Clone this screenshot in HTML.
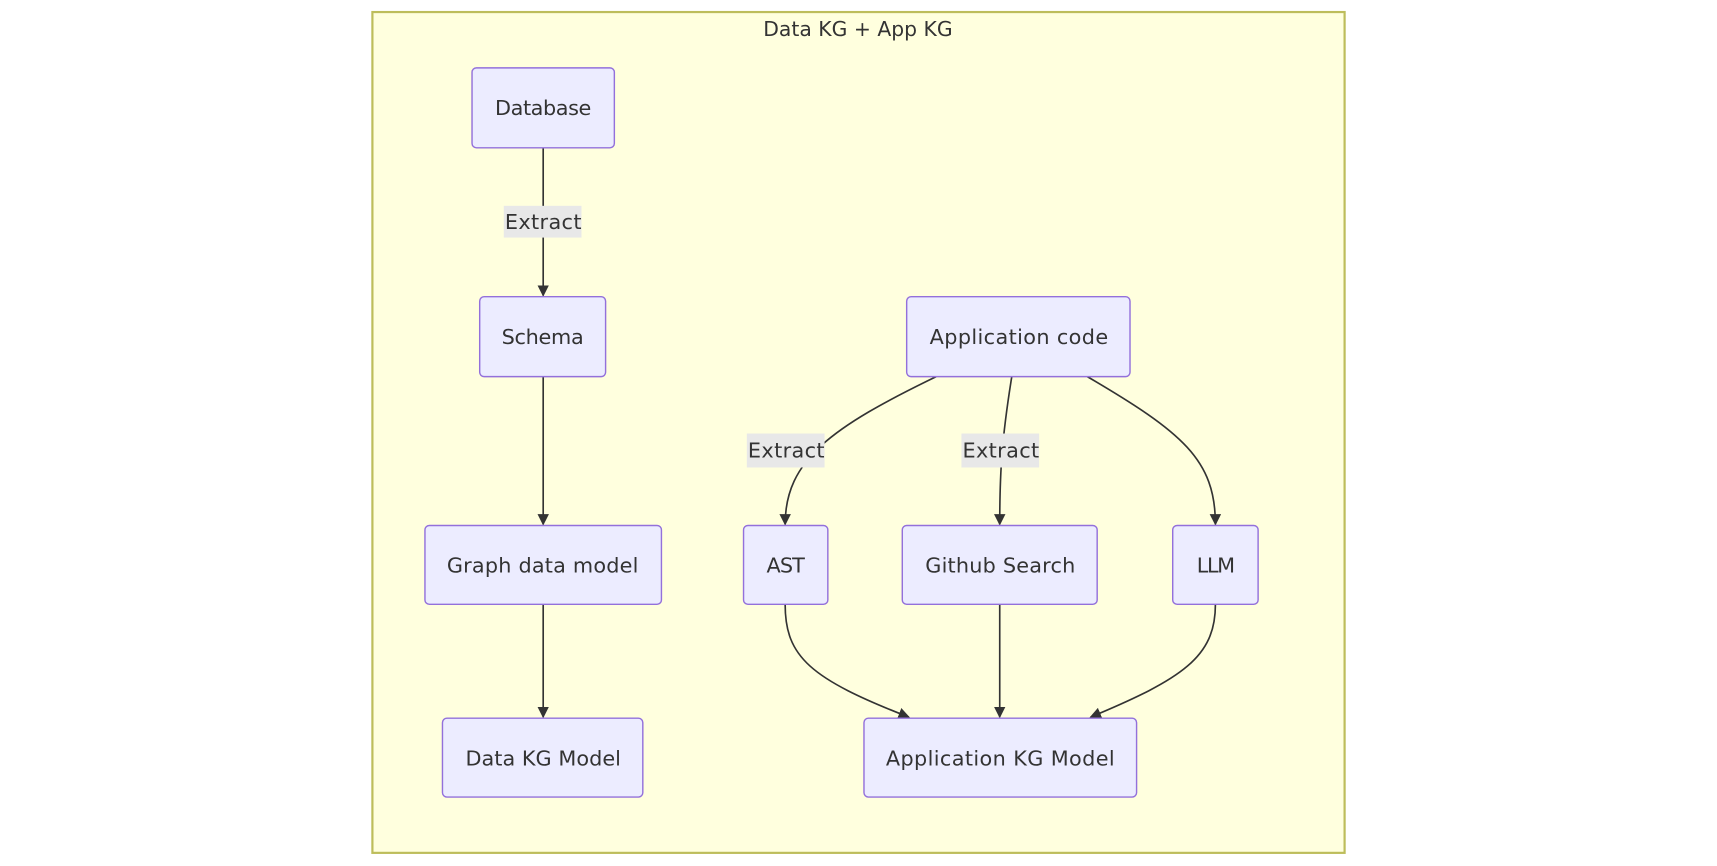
<!DOCTYPE html>
<html><head><style>html,body{margin:0;padding:0;background:#fff}svg{display:block}</style></head><body>
<svg width="1717" height="866" viewBox="0 0 1568 791" xmlns="http://www.w3.org/2000/svg" font-family="DejaVu Sans, sans-serif">
<defs><marker id="a" viewBox="0 0 10 10" refX="9" refY="5" markerWidth="7" markerHeight="7" orient="auto"><path d="M0,0L10,5L0,10z" fill="#333"/></marker></defs>
<rect x="340" y="11" width="888" height="768" fill="#ffffde" stroke="#bdbd5b" stroke-width="2"/>
<text x="697" y="33" font-size="19" fill="#333" textLength="173" lengthAdjust="spacingAndGlyphs">Data KG + App KG</text>
<g fill="none" stroke="#333" stroke-width="1.5" marker-end="url(#a)">
<path d="M496,135V270"/>
<path d="M496,344V479"/>
<path d="M496,552V655"/>
<path d="M855,344C760,390 717,420 717,479"/>
<path d="M924,344C915,400 913,430 913,479"/>
<path d="M993,344C1080,395 1110,420 1110,479"/>
<path d="M717,552C717,600 740,620 830,655"/>
<path d="M913,552V655"/>
<path d="M1110,552C1110,600 1080,620 996,655"/>
</g>
<g fill="#e8e8e8"><rect x="460" y="188" width="71" height="29"/><rect x="682" y="396" width="71" height="31"/><rect x="878" y="396" width="71" height="31"/></g>
<g font-size="19" fill="#333" lengthAdjust="spacingAndGlyphs">
<text x="461" y="209" textLength="70">Extract</text><text x="683" y="418" textLength="70">Extract</text><text x="879" y="418" textLength="70">Extract</text>
</g>
<g fill="#ececff" stroke="#9370db" stroke-width="1.3">
<rect x="431" y="62" width="130" height="73" rx="4"/>
<rect x="438" y="271" width="115" height="73" rx="4"/>
<rect x="388" y="480" width="216" height="72" rx="4"/>
<rect x="404" y="656" width="183" height="72" rx="4"/>
<rect x="828" y="271" width="204" height="73" rx="4"/>
<rect x="679" y="480" width="77" height="72" rx="4"/>
<rect x="824" y="480" width="178" height="72" rx="4"/>
<rect x="1071" y="480" width="78" height="72" rx="4"/>
<rect x="789" y="656" width="249" height="72" rx="4"/>
</g>
<g font-size="19" fill="#333" lengthAdjust="spacingAndGlyphs">
<text x="452" y="105" textLength="88">Database</text>
<text x="458" y="314" textLength="75">Schema</text>
<text x="408" y="523" textLength="175">Graph data model</text>
<text x="425" y="699" textLength="142">Data KG Model</text>
<text x="849" y="314" textLength="163">Application code</text>
<text x="700" y="523" textLength="35">AST</text>
<text x="845" y="523" textLength="137">Github Search</text>
<text x="1093" y="523" textLength="35">LLM</text>
<text x="809" y="699" textLength="209">Application KG Model</text>
</g>
</svg>
</body></html>
